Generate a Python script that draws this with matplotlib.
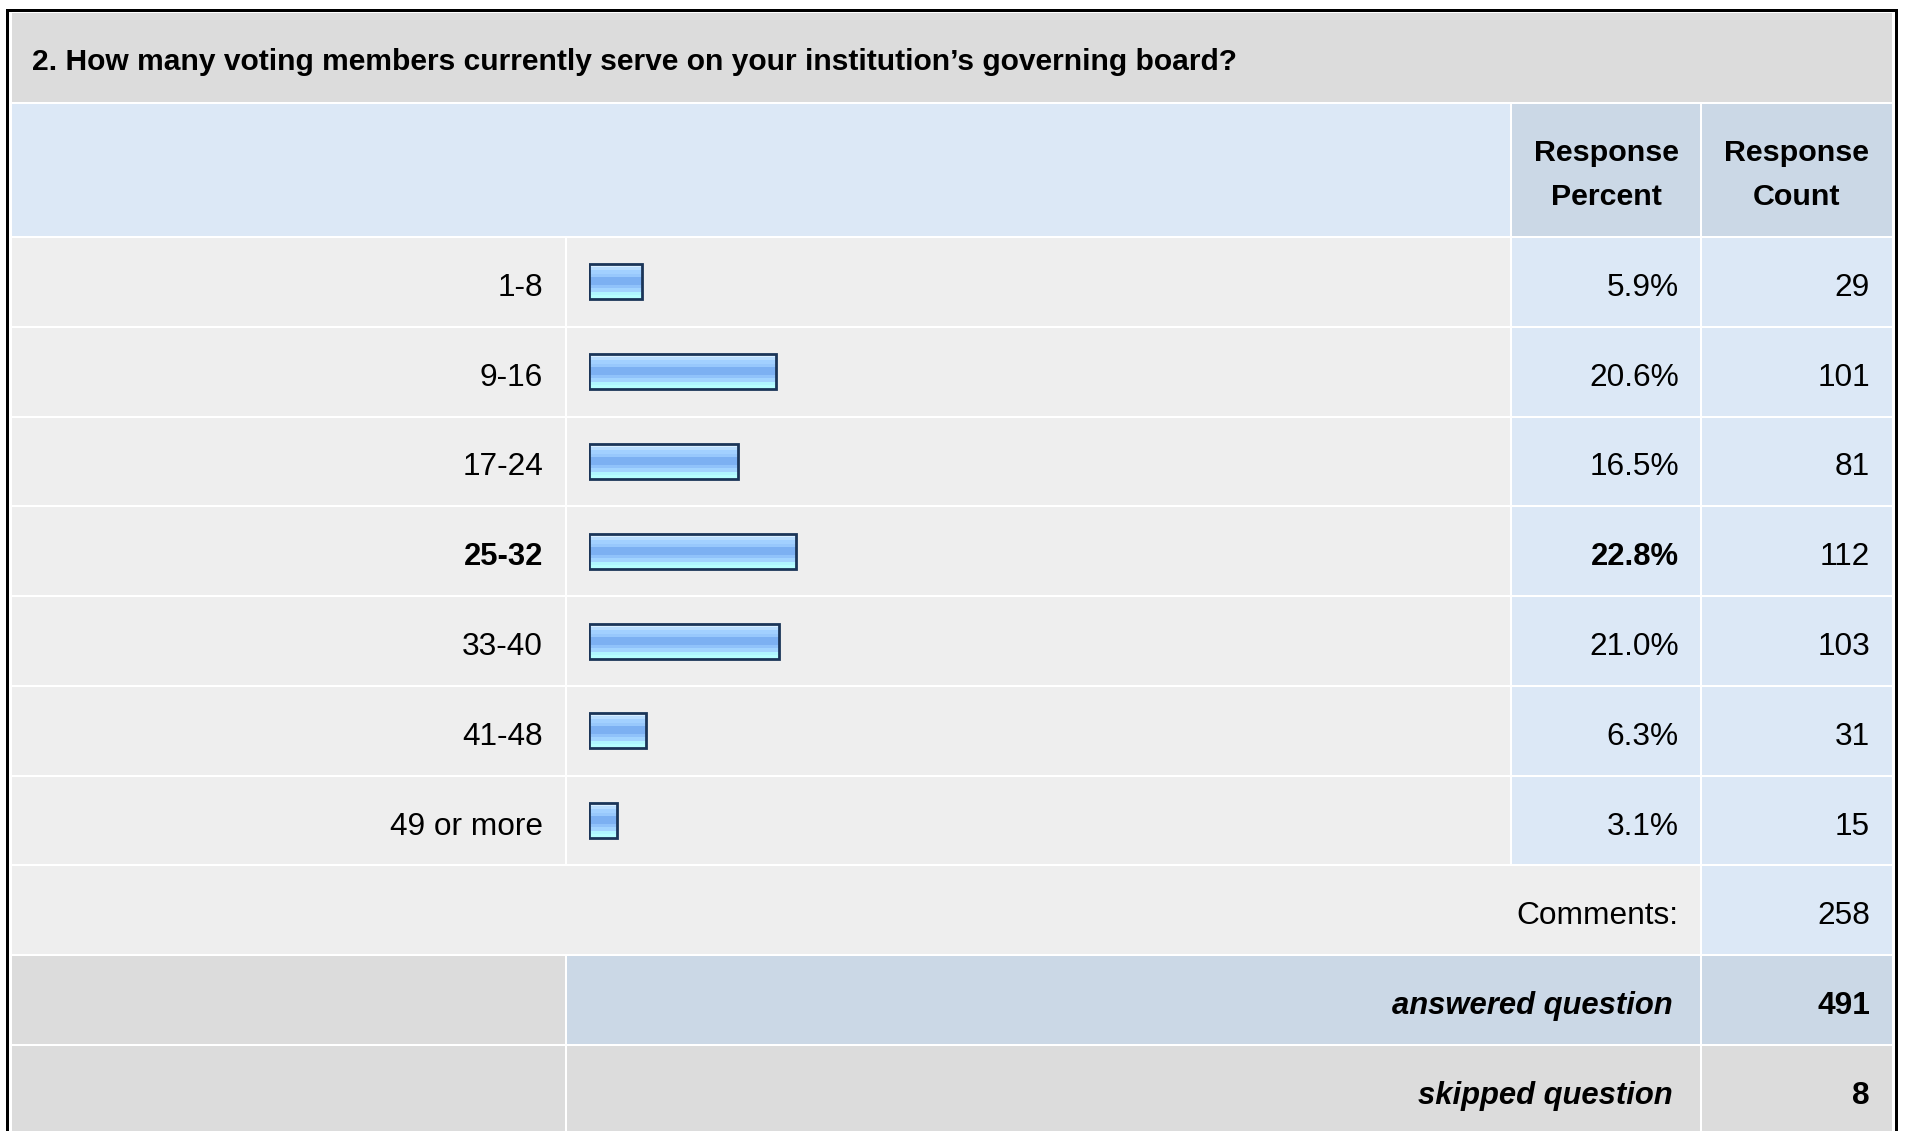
import matplotlib
matplotlib.use('Agg')
import matplotlib.pyplot as plt
import numpy as np
from matplotlib.patches import Rectangle
from matplotlib.colors import to_rgb

# survey data
title = "2. How many voting members currently serve on your institution\u2019s governing board?"
categories = ['1-8', '9-16', '17-24', '25-32', '33-40', '41-48', '49 or more']
percents = [5.9, 20.6, 16.5, 22.8, 21.0, 6.3, 3.1]
counts = [29, 101, 81, 112, 103, 31, 15]
comments = 258
answered = 491
skipped = 8
header_cols = ['Response\nPercent', 'Response\nCount']

W, H = 1907, 1131
plt.rcParams['font.family'] = ['Liberation Sans', 'DejaVu Sans']
FS = 22.8        # regular body text
FS_B = 22.3      # bold body text
FS_HEAD = 21.9   # column headers
FS_TITLE = 21.6

# layout (pixels)
x_left, x_lab, x_bar, x_pct, x_right = 11, 566, 1511, 1701, 1893
row_top = 237.0
row_h = 89.78

c_title = '#dcdcdc'
c_head = '#dce8f6'
c_head2 = '#cbd8e6'
c_row = '#eeeeee'
c_val = '#dce8f6'
c_grey = '#dcdcdc'

fig = plt.figure(figsize=(W / 100, H / 100), dpi=100)
ax = fig.add_axes([0, 0, 1, 1])
ax.set_xlim(0, W)
ax.set_ylim(H, 0)
ax.axis('off')


def cell(x0, y0, x1, y1, color):
    ax.add_patch(Rectangle((x0 + 1, y0 + 1), x1 - x0 - 2, y1 - y0 - 2,
                           facecolor=color, edgecolor='none', zorder=1))


# outer frame
ax.add_patch(Rectangle((6, 9), 3, H, facecolor='black', edgecolor='none'))
ax.add_patch(Rectangle((6, 9), 1891, 3, facecolor='black', edgecolor='none'))
ax.add_patch(Rectangle((1895, 9), 2.5, H, facecolor='black', edgecolor='none'))

# title band
cell(x_left, 12, x_right, 103, c_title)
ax.text(32, 70, title, fontsize=FS_TITLE, fontweight='bold', ha='left',
        va='baseline', zorder=3)

# header
cell(x_left, 103, x_bar, row_top, c_head)
cell(x_bar, 103, x_pct, row_top, c_head2)
cell(x_pct, 103, x_right, row_top, c_head2)
for xc, txt in zip([(x_bar + x_pct) / 2, (x_pct + x_right) / 2], header_cols):
    l1, l2 = txt.split('\n')
    ax.text(xc, 161, l1, fontsize=FS_HEAD, fontweight='bold', ha='center', va='baseline', zorder=3)
    ax.text(xc, 205, l2, fontsize=FS_HEAD, fontweight='bold', ha='center', va='baseline', zorder=3)

best = int(np.argmax(percents))
for i, (cat, p, n) in enumerate(zip(categories, percents, counts)):
    y0 = row_top + i * row_h
    y1 = y0 + row_h
    cell(x_left, y0, x_lab, y1, c_row)
    cell(x_lab, y0, x_bar, y1, c_row)
    cell(x_bar, y0, x_pct, y1, c_val)
    cell(x_pct, y0, x_right, y1, c_val)
    base = y0 + row_h / 2 + 14
    if i == best:
        w, fs = 'bold', FS_B
    else:
        w, fs = 'normal', FS
    ax.text(x_lab - 23, base, cat, fontsize=fs, fontweight=w, ha='right', va='baseline', zorder=3)
    ax.text(x_pct - 22, base, f'{p:.1f}%', fontsize=fs, fontweight=w, ha='right', va='baseline', zorder=3)
    ax.text(x_right - 23, base, str(n), fontsize=FS, ha='right', va='baseline', zorder=3)

# comments / answered / skipped rows
y0 = row_top + 7 * row_h
cell(x_left, y0, x_pct, y0 + row_h, c_row)
cell(x_pct, y0, x_right, y0 + row_h, c_val)
base = y0 + row_h / 2 + 14
ax.text(x_pct - 23, base, 'Comments:', fontsize=FS, ha='right', va='baseline', zorder=3)
ax.text(x_right - 23, base, str(comments), fontsize=FS, ha='right', va='baseline', zorder=3)

y0 = row_top + 8 * row_h
cell(x_left, y0, x_lab, y0 + row_h, c_grey)
cell(x_lab, y0, x_pct, y0 + row_h, c_head2)
cell(x_pct, y0, x_right, y0 + row_h, c_head2)
base = y0 + row_h / 2 + 14
ax.text(x_pct - 28, base, 'answered question', fontsize=FS_B, fontweight='bold', style='italic',
        ha='right', va='baseline', zorder=3)
ax.text(x_right - 23, base, str(answered), fontsize=FS, fontweight='bold', ha='right', va='baseline', zorder=3)

y0 = row_top + 9 * row_h
cell(x_left, y0, x_lab, y0 + row_h + 10, c_grey)
cell(x_lab, y0, x_pct, y0 + row_h + 10, c_grey)
cell(x_pct, y0, x_right, y0 + row_h + 10, c_grey)
base = y0 + row_h / 2 + 14
ax.text(x_pct - 28, base, 'skipped question', fontsize=FS_B, fontweight='bold', style='italic',
        ha='right', va='baseline', zorder=3)
ax.text(x_right - 23, base, str(skipped), fontsize=FS, fontweight='bold', ha='right', va='baseline', zorder=3)

# bar axes: 0..100 % over the bar column
bx0, bx100 = 589, 1495
bax = fig.add_axes([bx0 / W, 1 - (row_top + 7 * row_h) / H, (bx100 - bx0) / W, 7 * row_h / H])
bax.set_xlim(0, 100)
bax.set_ylim(len(categories) - 0.5, -0.5)
bax.axis('off')
bax.patch.set_visible(False)

stripes = ['#d8eeff', '#b8ddff', '#a2d0ff', '#98c8fc', '#7cb0f2', '#7cb0f2',
           '#90c2fa', '#a2d4ff', '#b0f6ff', '#b6ffff']
grad = np.array([to_rgb(c) for c in stripes]).reshape(-1, 1, 3)
bh = 0.39
for i, p in enumerate(percents):
    bax.imshow(grad, extent=(0, p, i + bh / 2, i - bh / 2), aspect='auto',
               interpolation='nearest', zorder=2)
bax.barh(range(len(percents)), percents, height=bh, facecolor='none',
         edgecolor='#1b3558', linewidth=2.0, zorder=3)
bax.set_xlim(0, 100)
bax.set_ylim(len(categories) - 0.5, -0.5)

fig.savefig('out.png', dpi=100)
